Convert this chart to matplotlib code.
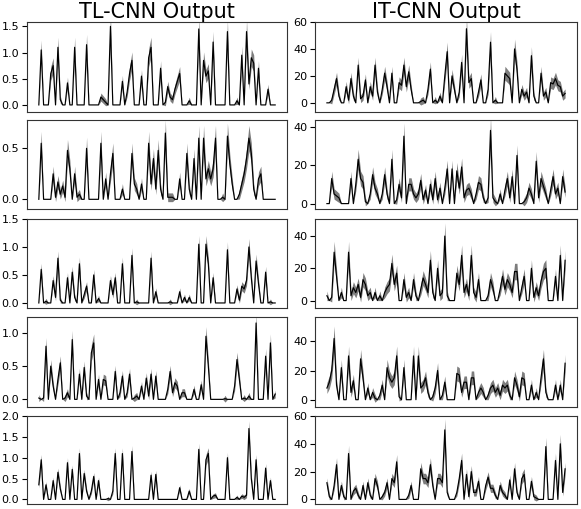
import numpy as np
import matplotlib
matplotlib.use("Agg")
import matplotlib.pyplot as plt

# ---- data ----
tl1 = [0, 1.05, 0, 0, 0, 0.6, 0.75, 0, 1.1, 0.1,
       0, 0, 0.42, 0, 0, 1.1, 0, 0, 0, 0,
       1.15, 0, 0, 0, 0, 0, 0.15, 0.1, 0.05, 0,
       1.5, 0, 0, 0, 0, 0.45, 0, 0.25, 0.6, 0.85,
       0, 0, 0, 0.55, 0, 0, 0.9, 1.1, 0, 0,
       0, 0.7, 0, 0.05, 0.35, 0.15, 0.1, 0.3, 0.45, 0.6,
       0, 0, 0, 0.08, 0, 0, 0, 1.45, 0, 0.85,
       0.55, 0.65, 0, 1.2, 0, 0, 0, 0, 0, 1.4,
       0, 0, 0, 0.08, 0, 0.95, 0, 1.4, 0.4, 0.9,
       0.8, 0, 0.7, 0, 0, 0, 0.3, 0, 0, 0]
tl2 = [0, 0.55, 0, 0, 0, 0, 0.25, 0.02, 0.17, 0.05,
       0.13, 0.02, 0.48, 0.3, 0, 0.25, 0.02, 0.05, 0, 0,
       0.5, 0, 0, 0, 0, 0, 0.55, 0, 0.2, 0,
       0.25, 0.45, 0, 0, 0, 0.1, 0, 0, 0, 0.45,
       0.15, 0.1, 0, 0.15, 0, 0, 0.55, 0.15, 0.4, 0.1,
       0.48, 0.1, 0, 0.65, 0.02, 0.02, 0.02, 0, 0, 0.2,
       0, 0, 0.45, 0.1, 0, 0.4, 0, 0.6, 0, 0.6,
       0.2, 0.3, 0.2, 0.3, 0.6, 0, 0, 0.02, 0, 0.62,
       0.35, 0.15, 0, 0, 0.05, 0.15, 0.25, 0.4, 0.6, 0.45,
       0.1, 0, 0.2, 0.25, 0, 0, 0, 0, 0, 0]
tl3 = [0, 0.6, 0, 0.03, 0, 0, 0.4, 0.1, 0.8, 0.05,
       0, 0, 0.45, 0, 0.55, 0.1, 0, 0.7, 0, 0.15,
       0.3, 0, 0, 0.5, 0, 0.08, 0, 0, 0, 0,
       0.4, 0.15, 0.45, 0, 0, 0.7, 0, 0, 0, 0.85,
       0, 0.02, 0, 0, 0, 0, 0, 0.8, 0, 0.2,
       0, 0, 0, 0, 0, 0.02, 0, 0, 0, 0.2,
       0, 0.1, 0, 0.1, 0, 0, 0, 1.05, 0, 0,
       1.05, 0.7, 0, 0.45, 0, 0, 0, 0, 0, 0.95,
       0, 0, 0, 0.25, 0.05, 0.3, 0.25, 0.4, 1.0, 0.45,
       0, 0.75, 0.35, 0, 0, 0.55, 0, 0.02, 0, 0]
tl4 = [0.02, 0, 0.02, 0.8, 0, 0.5, 0.2, 0, 0.3, 0.55,
       0, 0.02, 0.1, 0, 0.9, 0, 0, 0.38, 0, 0.48,
       0.05, 0, 0.7, 0.85, 0, 0.3, 0, 0.3, 0.28, 0,
       0, 0, 0.42, 0, 0.1, 0.35, 0, 0.1, 0.38, 0,
       0.02, 0.05, 0, 0.2, 0, 0.32, 0.05, 0.38, 0, 0.35,
       0, 0, 0, 0, 0.15, 0.42, 0.1, 0.25, 0.2, 0,
       0.1, 0.1, 0, 0, 0, 0.15, 0, 0, 0.22, 0,
       0.95, 0.5, 0, 0, 0, 0, 0, 0, 0.01, 0,
       0, 0, 0.2, 0.6, 0.3, 0, 0.02, 0, 0.05, 0,
       0, 1.15, 0, 0, 0, 0.65, 0, 0.85, 0, 0.08]
tl5 = [0.35, 0.95, 0, 0.35, 0, 0, 0.45, 0, 0.65, 0.25,
       0, 0, 0.88, 0, 0.72, 0, 0, 1.1, 0, 0.62,
       0.2, 0, 0.2, 0.55, 0, 0.45, 0, 0, 0, 0.02,
       0, 0.2, 1.1, 0, 0, 1.1, 0, 0, 0, 1.15,
       0, 0, 0, 0, 0, 0, 0, 0.58, 0, 0.6,
       0, 0, 0, 0, 0, 0, 0, 0, 0, 0.28,
       0, 0, 0, 0.2, 0, 0, 0, 1.2, 0, 0,
       0.95, 1.1, 0, 0.08, 0.1, 0, 0, 0, 0, 1.0,
       0, 0, 0, 0.05, 0, 0.08, 0.05, 0.1, 1.7, 0.5,
       0, 0.95, 0, 0, 0, 0.75, 0, 0.45, 0, 0]

it1 = [0, 0, 2, 10, 18, 5, 0, 0, 12, 2,
       18, 5, 0, 28, 3, 5, 17, 0, 12, 5,
       28, 8, 0, 10, 22, 12, 0, 22, 0, 0,
       15, 13, 28, 12, 23, 10, 0, 0, 0, 1,
       2, 0, 10, 25, 0, 2, 0, 5, 0, 20,
       38, 0, 20, 10, 0, 8, 30, 0, 55, 15,
       18, 0, 0, 8, 17, 0, 0, 10, 45, 0,
       2, 0, 0, 0, 22, 20, 18, 0, 40, 25,
       0, 10, 5, 8, 0, 35, 5, 0, 0, 22,
       5, 8, 0, 15, 14, 18, 13, 12, 5, 7]
it2 = [0, 0, 13, 5, 4, 3, 0, 0, 0, 0,
       13, 0, 10, 23, 13, 11, 1, 0, 5, 15,
       8, 5, 0, 5, 15, 5, 0, 23, 0, 2,
       10, 3, 35, 0, 10, 10, 5, 3, 5, 12,
       2, 7, 0, 10, 2, 13, 2, 8, 0, 8,
       18, 0, 18, 0, 17, 8, 19, 3, 7, 8,
       5, 0, 5, 11, 10, 3, 0, 3, 38, 3,
       1, 0, 5, 0, 7, 13, 3, 14, 0, 25,
       0, 0, 1, 3, 8, 5, 0, 22, 3, 13,
       9, 5, 0, 7, 14, 5, 8, 0, 14, 6]
it3 = [3, 0, 2, 30, 15, 0, 5, 0, 0, 30,
       3, 8, 5, 10, 2, 13, 10, 3, 5, 0,
       5, 0, 3, 0, 5, 8, 10, 23, 10, 17,
       0, 0, 13, 2, 5, 0, 13, 3, 0, 7,
       14, 10, 5, 25, 5, 0, 20, 3, 5, 40,
       3, 0, 0, 0, 17, 10, 28, 5, 10, 3,
       28, 5, 2, 13, 0, 0, 0, 3, 13, 8,
       0, 0, 7, 15, 7, 13, 10, 5, 18, 18,
       0, 8, 15, 0, 0, 20, 2, 8, 3, 12,
       18, 20, 0, 0, 0, 15, 0, 28, 0, 25]
it4 = [8, 12, 20, 42, 10, 0, 22, 0, 0, 30,
       5, 13, 0, 0, 28, 15, 0, 8, 0, 5,
       1, 0, 3, 10, 0, 22, 15, 12, 15, 30,
       2, 0, 22, 0, 0, 0, 30, 0, 30, 8,
       10, 15, 5, 0, 2, 8, 20, 0, 3, 12,
       0, 0, 0, 0, 18, 17, 5, 12, 12, 0,
       15, 15, 0, 5, 8, 5, 0, 3, 8, 10,
       5, 8, 3, 10, 8, 10, 3, 0, 15, 10,
       2, 15, 14, 0, 0, 10, 0, 5, 0, 15,
       28, 5, 0, 0, 0, 10, 0, 10, 0, 25]
it5 = [12, 2, 0, 10, 25, 0, 10, 2, 0, 33,
       0, 6, 8, 3, 0, 10, 0, 12, 3, 0,
       15, 10, 0, 2, 5, 12, 0, 15, 12, 27,
       0, 0, 0, 0, 3, 10, 0, 0, 0, 22,
       15, 15, 12, 25, 10, 0, 15, 15, 12, 50,
       5, 0, 0, 0, 5, 15, 28, 0, 18, 2,
       20, 5, 5, 13, 0, 0, 10, 16, 8, 8,
       3, 0, 10, 5, 3, 0, 14, 0, 22, 5,
       0, 15, 18, 0, 0, 13, 2, 1, 0, 0,
       0, 38, 0, 0, 0, 28, 0, 40, 5, 22]

tl_series = [tl1, tl2, tl3, tl4, tl5]
it_series = [it1, it2, it3, it4, it5]

titles = ["TL-CNN Output", "IT-CNN Output"]

tl_yticks = [[0.0, 0.5, 1.0, 1.5], [0.0, 0.5], [0.0, 0.5, 1.0, 1.5],
             [0.0, 0.5, 1.0], [0.0, 0.5, 1.0, 1.5, 2.0]]
it_yticks = [[0, 20, 40, 60], [0, 20, 40], [0, 20, 40], [0, 20, 40], [0, 20, 40, 60]]

tl_ylims = [(-0.135, 1.583), (-0.095, 0.778), (-0.09, 1.5), (-0.115, 1.24), (-0.11, 2.0)]
it_ylims = [(-6.8, 60), (-2.8, 43.4), (-4.6, 50.6), (-5.0, 56.7), (-3.3, 60)]

# band spread (relative, absolute) per panel
tl_band = [(0.12, 0.06), (0.14, 0.04), (0.10, 0.05), (0.10, 0.05), (0.08, 0.05)]
it_band = [(0.12, 2.5), (0.14, 2.0), (0.14, 2.6), (0.14, 2.6), (0.12, 2.0)]

# ---- figure ----
W, H = 581, 509
fig = plt.figure(figsize=(W / 100, H / 100), dpi=100)

col_px = [(27, 287), (315, 577)]
row_px = [(22, 112), (120, 209), (219, 308), (317, 407), (416, 504)]


def draw(ax, vals, band, yt, yl):
    v = np.asarray(vals, dtype=float)
    x = np.arange(len(v))
    rel, ab = band
    hw = rel * v + ab * (v > 0)
    ax.fill_between(x, v - hw, v + hw, color="0.4", alpha=0.85, lw=0)
    ax.plot(x, v, color="black", lw=0.85)
    ax.set_xticks([])
    ax.set_yticks(yt)
    ax.set_ylim(*yl)
    ax.tick_params(axis="y", labelsize=8, length=3.5, pad=2)
    for s in ax.spines.values():
        s.set_color("0.2")


for c, (series, ticks, lims, bands) in enumerate(
        [(tl_series, tl_yticks, tl_ylims, tl_band),
         (it_series, it_yticks, it_ylims, it_band)]):
    x0, x1 = col_px[c]
    for r in range(5):
        y0, y1 = row_px[r]
        ax = fig.add_axes([x0 / W, 1 - y1 / H, (x1 - x0) / W, (y1 - y0) / H])
        draw(ax, series[r], bands[r], ticks[r], lims[r])
        if r == 0:
            ax.set_title(titles[c], fontsize=15, pad=3)

fig.savefig("out.png", dpi=100)
